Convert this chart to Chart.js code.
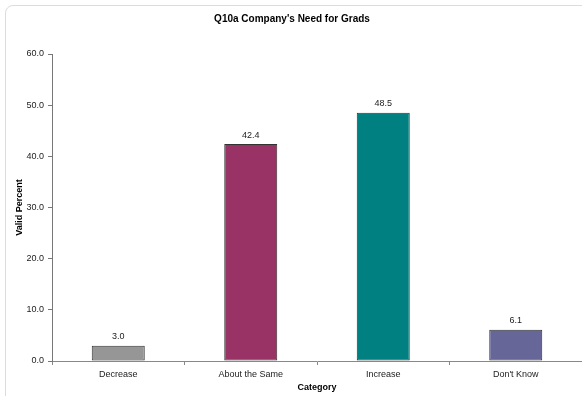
<!DOCTYPE html>
<html>
<head>
<meta charset="utf-8">
<script src="https://cdn.jsdelivr.net/npm/chart.js@4/dist/chart.umd.min.js"></script>
<style>
  html, body { margin: 0; padding: 0; background: #ffffff; }
  #wrap { position: relative; width: 582px; height: 396px; overflow: hidden; }
  #frame { position: absolute; left: 5px; top: 5px; width: 620px; height: 440px;
           border: 1px solid #dcdcdc; border-radius: 8px; box-sizing: border-box; }
  #c { position: absolute; left: 0; top: 0; }
</style>
</head>
<body>
<div id="wrap">
  <div id="frame"></div>
  <canvas id="c" width="582" height="396"></canvas>
</div>
<script>
const chartTitle = "Q10a Company's Need for Grads";
const categories = ["Decrease", "About the Same", "Increase", "Don't Know"];
const validPercent = [3.0, 42.4, 48.5, 6.1];
const barColors = ["#969696", "#993366", "#008080", "#666699"];
const yTicks = [0, 10, 20, 30, 40, 50, 60];
const xTitle = "Category";
const yTitle = "Valid Percent";

const FONT = "'Liberation Sans', Arial, sans-serif";

const valueLabels = {
  id: 'valueLabels',
  afterDatasetsDraw(chart) {
    const ctx = chart.ctx;
    const meta = chart.getDatasetMeta(0);
    ctx.save();
    ctx.font = "9px " + FONT;
    ctx.fillStyle = "#222222";
    ctx.textAlign = "center";
    ctx.textBaseline = "middle";
    meta.data.forEach((bar, i) => {
      ctx.fillText(validPercent[i].toFixed(1), bar.x, bar.y - 9);
    });
    ctx.restore();
  }
};

new Chart(document.getElementById('c'), {
  type: 'bar',
  data: {
    labels: categories,
    datasets: [{
      data: validPercent,
      backgroundColor: barColors,
      borderColor: "#333333",
      borderWidth: 1,
      borderSkipped: false,
      barPercentage: 0.4,
      categoryPercentage: 1.0
    }]
  },
  options: {
    responsive: false,
    animation: false,
    devicePixelRatio: 1,
    layout: { padding: { left: 0, right: -2, top: 0, bottom: 0 } },
    plugins: {
      legend: { display: false },
      tooltip: { enabled: false },
      title: {
        display: true,
        text: chartTitle,
        color: "#000000",
        font: { family: FONT, size: 10, weight: 'bold', lineHeight: 1.2 },
        padding: { top: 13.5, bottom: 28.5 }
      }
    },
    scales: {
      x: {
        offset: true,
        grid: { display: true, drawOnChartArea: false, offset: true, tickLength: 4, color: "#888888" },
        border: { display: true, color: "#888888", width: 1 },
        ticks: { color: "#222222", padding: 4, font: { family: FONT, size: 9 }, maxRotation: 0, autoSkip: false },
        title: { display: true, text: xTitle, color: "#000000",
                 font: { family: FONT, size: 9, weight: 'bold', lineHeight: 1.2 },
                 padding: { top: 0, bottom: 3 } },
        afterFit(scale) { scale.height = 35; }
      },
      y: {
        min: 0,
        max: 60,
        afterBuildTicks(scale) { scale.ticks = yTicks.map(v => ({ value: v })); },
        grid: { display: true, drawOnChartArea: false, tickLength: 4, color: "#777777" },
        border: { display: true, color: "#777777", width: 1 },
        ticks: { color: "#222222", padding: 4, font: { family: FONT, size: 9 },
                 callback: v => Number(v).toFixed(1) },
        title: { display: true, text: yTitle, color: "#000000",
                 font: { family: FONT, size: 9, weight: 'bold', lineHeight: 1.2 },
                 padding: { top: 14, bottom: 0 } },
        afterFit(scale) { scale.width = 52; }
      }
    }
  },
  plugins: [valueLabels]
});
</script>
</body>
</html>
